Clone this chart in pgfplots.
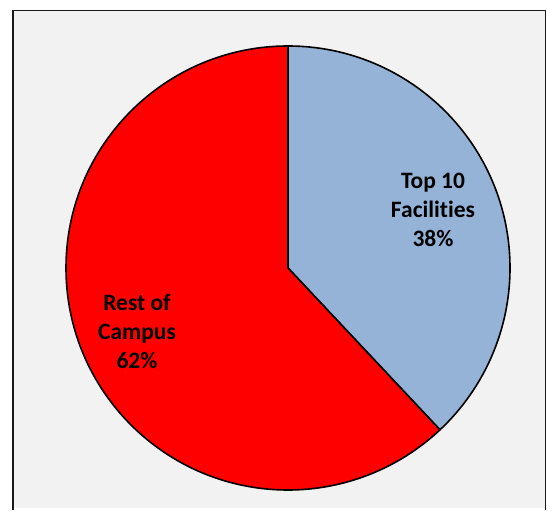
\documentclass[border=0pt]{standalone}
\usepackage{pgfplots}
\pgfplotsset{compat=1.18}
\usepackage{pgfplotstable}
\usepackage{fontspec}
\setmainfont[Ligatures={NoCommon}]{Carlito}
\definecolor{topblue}{HTML}{95B3D7}
\definecolor{restred}{HTML}{FF0000}
\definecolor{bggray}{HTML}{F2F2F2}
\pgfplotstableread[col sep=comma]{
label,value
Top 10 Facilities,38
Rest of Campus,62
}\piedata
\begin{document}
\begin{tikzpicture}
\pgfplotstablegetelem{0}{value}\of\piedata \global\let\va\pgfplotsretval
\pgfplotstablegetelem{1}{value}\of\piedata \global\let\vb\pgfplotsretval
\pgfmathsetmacro\total{\va+\vb}
\pgfmathsetmacro\aend{90-360*(\va/\total)}
\pgfmathsetmacro\bend{90+360*(\vb/\total)}
\begin{axis}[
  x=1bp, y=1bp,
  xmin=0, xmax=547, ymin=0, ymax=508,
  hide axis, clip=false,
]
% background
\fill[white] (axis cs:0,0) rectangle (axis cs:547,508);
\fill[bggray] (axis cs:12,0) rectangle (axis cs:546,498);
\draw[black!90, line width=1.5bp] (axis cs:12.75,-2) -- (axis cs:12.75,497.25) -- (axis cs:545.25,497.25) -- (axis cs:545.25,-2);
% pie
\filldraw[fill=topblue, draw=black, line width=1.6bp, line join=round]
  (axis cs:288,240) -- (axis cs:288,462) arc[start angle=90, end angle=\aend, radius=222bp] -- cycle;
\filldraw[fill=restred, draw=black, line width=1.6bp, line join=round]
  (axis cs:288,240) -- (axis cs:288,462) arc[start angle=90, end angle=\bend, radius=222bp] -- cycle;
% labels
\node[align=center, font=\fontsize{23.5bp}{29bp}\selectfont\bfseries] at (axis cs:433,298) {Top 10\\Facilities\\\va\%};
\node[align=center, font=\fontsize{23.5bp}{29bp}\selectfont\bfseries] at (axis cs:137,177) {Rest of\\Campus\\\vb\%};
\end{axis}
\end{tikzpicture}
\end{document}
